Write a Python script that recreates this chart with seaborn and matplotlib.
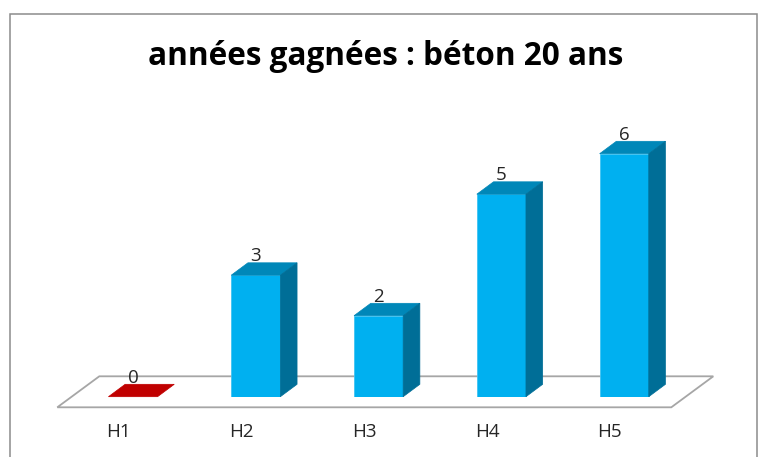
import matplotlib
matplotlib.use("Agg")
import matplotlib.pyplot as plt
from matplotlib.patches import Polygon, Rectangle
from matplotlib.transforms import ScaledTranslation
import seaborn as sns
import pandas as pd

# ---- data ----
categories = ["H1", "H2", "H3", "H4", "H5"]
values = [0, 3, 2, 5, 6]
title_text = "années gagnées : béton 20 ans"

# ---- styles ----
front_colors = ["#C00000", "#00B0F0", "#00B0F0", "#00B0F0", "#00B0F0"]
top_colors = ["#C00000", "#0087B8", "#0087B8", "#0087B8", "#0087B8"]
side_colors = ["#C00000", "#006E97", "#006E97", "#006E97", "#006E97"]

sns.set_style("white")
plt.rcParams["font.family"] = ["Open Sans", "DejaVu Sans"]

W, H = 766, 457
fig = plt.figure(figsize=(W / 100, H / 100), dpi=100)
fig.patch.set_facecolor("white")

# axes placement in pixels
px_unit_x = 122.8
px_unit_y = 40.5
x_left = 133 - 0.5 * px_unit_x
y_zero_from_top = 396.7
ymax = 7
ax = fig.add_axes([x_left / W, (H - y_zero_from_top) / H,
                   5 * px_unit_x / W, ymax * px_unit_y / H])
ax.set_facecolor("none")

df = pd.DataFrame({"cat": categories, "val": values})
sns.barplot(data=df, x="cat", y="val", hue="cat", palette=front_colors,
            width=0.4, saturation=1, legend=False, ax=ax, zorder=2,
            edgecolor="#3FC3F3", linewidth=0.6)
ax.set_xlim(-0.5, 4.5)
ax.set_ylim(0, ymax)

# depth offsets in data units
dx = 16.7 / px_unit_x
dy = 12.4 / px_unit_y

# floor
f_front = -10.6 / px_unit_y
f_back = f_front + 31.0 / px_unit_y
fx_shift = -14.3 / px_unit_x
fbx_shift = fx_shift + 42.0 / px_unit_x
floor = Polygon([(-0.5 + fx_shift, f_front), (4.5 + fx_shift, f_front),
                 (4.5 + fbx_shift, f_back), (-0.5 + fbx_shift, f_back)],
                closed=True, facecolor="white", edgecolor="#A6A6A6",
                linewidth=1.3, zorder=0.5, clip_on=False)
ax.add_patch(floor)

# 3D faces
for i, cont in enumerate(ax.containers):
    for p in cont.patches:
        x0, w, h = p.get_x(), p.get_width(), p.get_height()
        if h == 0:
            p.set_visible(False)
        top = Polygon([(x0, h), (x0 + w, h), (x0 + w + dx, h + dy), (x0 + dx, h + dy)],
                      closed=True, facecolor=top_colors[i], edgecolor=top_colors[i],
                      linewidth=0.5, zorder=2, clip_on=False)
        ax.add_patch(top)
        if h > 0:
            side = Polygon([(x0 + w, 0), (x0 + w, h), (x0 + w + dx, h + dy), (x0 + w + dx, dy)],
                           closed=True, facecolor=side_colors[i], edgecolor=side_colors[i],
                           linewidth=0.5, zorder=2, clip_on=False)
            ax.add_patch(side)
    labels = ax.bar_label(cont, padding=7, fontsize=13.5, color="#262626")
    for t in labels:
        t.set_clip_on(False)

# axes cosmetics
for s in ax.spines.values():
    s.set_visible(False)
ax.set_yticks([])
ax.set_xlabel("")
ax.set_ylabel("")
ax.set_xticks(range(len(categories)))
ax.set_xticklabels(categories)
ax.tick_params(axis="x", length=0, pad=19, labelsize=13.5, labelcolor="#262626")
shift = ScaledTranslation(-14.3 / 100, 0, fig.dpi_scale_trans)
for lbl in ax.get_xticklabels():
    lbl.set_transform(lbl.get_transform() + shift)

# chart border
border = Rectangle((10 / W, -0.05), (757 - 10) / W, (H - 14) / H + 0.05,
                   transform=fig.transFigure, fill=False, edgecolor="#8C8C8C",
                   linewidth=1.1, clip_on=False)
fig.patches.append(border)

# title, fitted to the reference width
t = fig.text(386 / W, (H - 65) / H, title_text, ha="center", va="baseline",
             fontsize=20, fontweight="bold", color="black")
fig.canvas.draw()
bb = t.get_window_extent()
t.set_fontsize(20 * 476 / bb.width)

fig.savefig("out.png", dpi=100, facecolor="white")
